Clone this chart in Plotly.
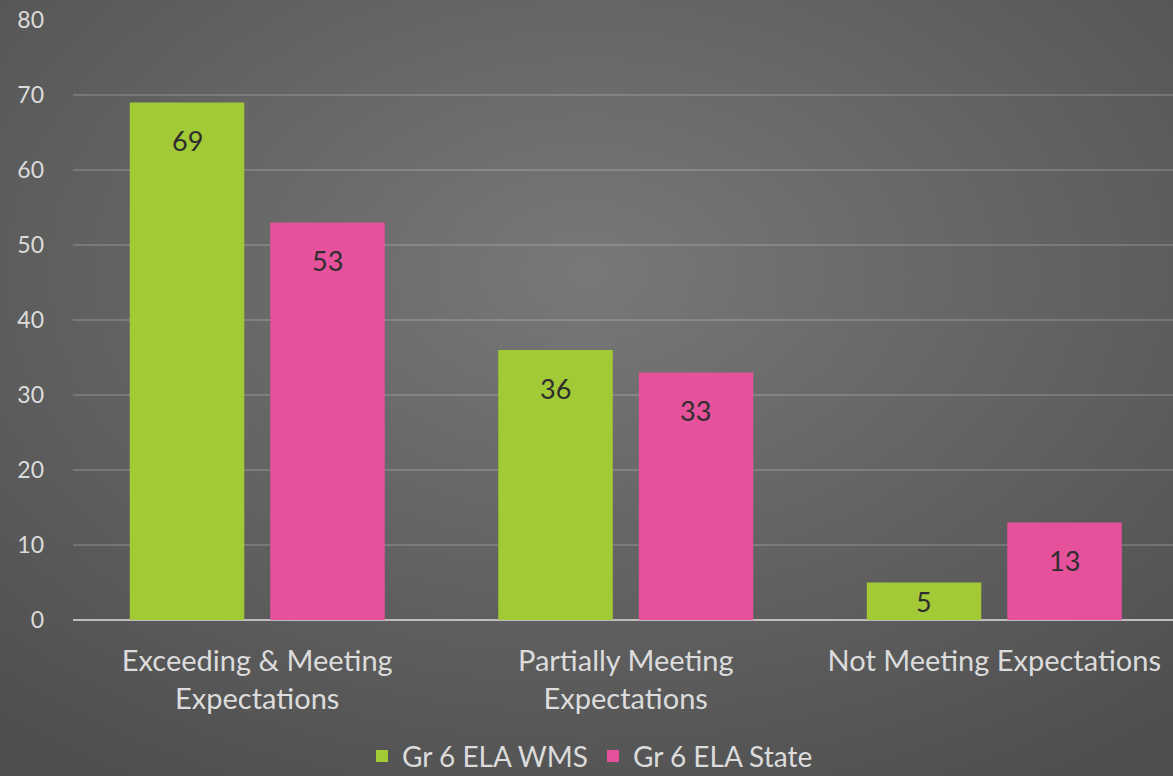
import plotly.graph_objects as go
import base64

categories = ["Exceeding & Meeting<br>Expectations", "Partially Meeting<br>Expectations", "Not Meeting Expectations"]
wms_values = [69, 36, 5]
state_values = [53, 33, 13]
series_names = ["Gr 6 ELA WMS", "Gr 6 ELA State"]
y_ticks = [0, 10, 20, 30, 40, 50, 60, 70, 80]

FONT = "Lato"
TXT = "#dcdcdc"
W, H = 1173, 776
ML, MR, MT, MB = 73, 0, 20, 156
PW, PH = W - ML - MR, H - MT - MB

svg = """<svg xmlns='http://www.w3.org/2000/svg' width='1173' height='776'>
<defs><radialGradient id='g' cx='50%' cy='35%' r='75%'>
<stop offset='0%' stop-color='#787878'/><stop offset='100%' stop-color='#4f4f4f'/>
</radialGradient></defs><rect width='1173' height='776' fill='url(#g)'/></svg>"""
bg = "data:image/svg+xml;base64," + base64.b64encode(svg.encode()).decode()

fig = go.Figure()
fig.add_trace(go.Bar(
    x=categories, y=wms_values, name=series_names[0],
    marker=dict(color="#a2ca36", line=dict(width=0)),
))
fig.add_trace(go.Bar(
    x=categories, y=state_values, name=series_names[1],
    marker=dict(color="#e5519b", line=dict(width=0)),
))

# value labels inside the bars near the top
px_per_unit = PH / 80
annotations = []
for vals, xs in ((wms_values, -70), (state_values, 70)):
    for cat, v in zip(categories, vals):
        annotations.append(dict(
            x=cat, y=v, xref="x", yref="y", text=str(v), showarrow=False,
            xshift=xs, yshift=-min(38, v * px_per_unit / 2),
            yanchor="middle", font=dict(family=FONT, size=27, color="#2e2e2e"),
        ))

fig.update_layout(
    width=W, height=H,
    margin=dict(l=ML, r=MR, t=MT, b=MB, autoexpand=False),
    paper_bgcolor="#5e5e5e",
    plot_bgcolor="rgba(0,0,0,0)",
    images=[dict(source=bg, xref="paper", yref="paper",
                 x=-ML / PW, y=1 + MT / PH, sizex=W / PW, sizey=H / PH,
                 xanchor="left", yanchor="top", sizing="stretch", layer="below")],
    barmode="group", bargap=0.2375, bargroupgap=0.185,
    font=dict(family=FONT, color=TXT),
    showlegend=True,
    legend=dict(orientation="h", x=0.47, xanchor="center", y=-0.227, yanchor="middle",
                font=dict(family=FONT, size=28, color=TXT),
                bgcolor="rgba(0,0,0,0)"),
    annotations=annotations,
)
fig.update_xaxes(
    range=[-0.5, 2.485], showgrid=False, showline=False, ticks="",
    tickfont=dict(family=FONT, size=29, color=TXT), ticklabelstandoff=21,
)
fig.update_yaxes(
    range=[0, 80], tickvals=y_ticks, showgrid=True, gridcolor="rgba(255,255,255,0.16)", gridwidth=2,
    zeroline=True, zerolinecolor="#bdbdbd", zerolinewidth=2,
    showline=False, ticks="", ticklabelstandoff=28,
    tickfont=dict(family=FONT, size=23, color=TXT),
)

fig.write_html("out.html", config={"displayModeBar": False},
               post_script="document.body.style.margin='0';")
